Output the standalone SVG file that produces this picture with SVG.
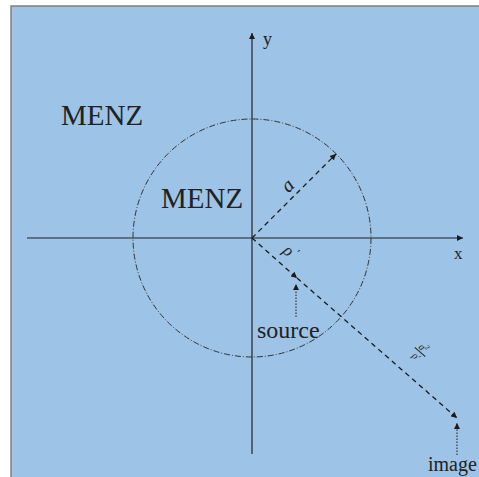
<svg xmlns="http://www.w3.org/2000/svg" width="479" height="477" viewBox="0 0 479 477">
<defs>
<marker id="ah" viewBox="0 0 10 10" refX="10" refY="5" markerWidth="7" markerHeight="6" markerUnits="userSpaceOnUse" orient="auto">
<path d="M0,0 L10,5 L0,10 Z" fill="#1a1a1a"/>
</marker>
<marker id="ahs" viewBox="0 0 10 10" refX="10" refY="5" markerWidth="6" markerHeight="6" markerUnits="userSpaceOnUse" orient="auto">
<path d="M0,0 L10,5 L0,10 Z" fill="#1a1a1a"/>
</marker>
</defs>
<style>
.t{font-family:"Liberation Serif","Times New Roman",serif;fill:#222}
.ax{stroke:#222;stroke-width:1.2;fill:none}
.dash{stroke:#1a1a1a;stroke-width:1.3;stroke-dasharray:5,4;fill:none}
.dot{stroke:#1a1a1a;stroke-width:1;stroke-dasharray:1.5,1.5;fill:none}
</style>
<rect x="11" y="6" width="480" height="480" fill="#9dc3e6" stroke="#7f7f7f" stroke-width="1.5"/>
<g id="circle">
<circle cx="252" cy="238" r="119" fill="none" stroke="#333" stroke-width="1" stroke-dasharray="6,2,1,2"/>
</g>
<g id="axes">
<line class="ax" x1="252" y1="454" x2="252" y2="33" marker-end="url(#ah)"/>
<line class="ax" x1="27" y1="238" x2="463" y2="238" marker-end="url(#ah)"/>
<text class="t" x="263" y="45" font-size="18">y</text>
<text class="t" x="454" y="259" font-size="17">x</text>
</g>
<g id="labels">
<text class="t" x="61" y="125" font-size="29">MENZ</text>
<text class="t" x="161" y="208" font-size="29">MENZ</text>
</g>
<g id="connectors">
<line class="dash" x1="252" y1="238" x2="336" y2="154" marker-end="url(#ah)"/>
<line class="dash" x1="252" y1="238" x2="297" y2="278" marker-end="url(#ah)"/>
<line class="dash" x1="297" y1="278" x2="457" y2="418" marker-end="url(#ah)"/>
<line class="dot" x1="296" y1="317" x2="296" y2="284" marker-end="url(#ahs)"/>
<line class="dot" x1="457" y1="455" x2="457" y2="423" marker-end="url(#ahs)"/>
</g>
<g id="source">
<text class="t" x="257" y="338" font-size="24">source</text>
</g>
<g id="image">
<text class="t" x="428" y="471" font-size="20">image</text>
</g>
<g id="math">
<text class="t" x="0" y="0" font-size="20" font-style="italic" text-anchor="middle" transform="translate(292,190) rotate(-45)">a</text>
<text class="t" x="0" y="0" font-size="17" font-style="italic" transform="translate(282,252) rotate(41)">ρ<tspan font-size="11" dy="-6" dx="2">'</tspan></text>
<g transform="translate(420,352) rotate(41)">
<line x1="-7" y1="0" x2="7" y2="0" stroke="#222" stroke-width="1"/>
<text class="t" x="0" y="-2" font-size="10" font-style="italic" text-anchor="middle">a<tspan font-size="7" dy="-4">2</tspan></text>
<text class="t" x="0" y="9" font-size="10" font-style="italic" text-anchor="middle">ρ'</text>
</g>
</g>
</svg>
